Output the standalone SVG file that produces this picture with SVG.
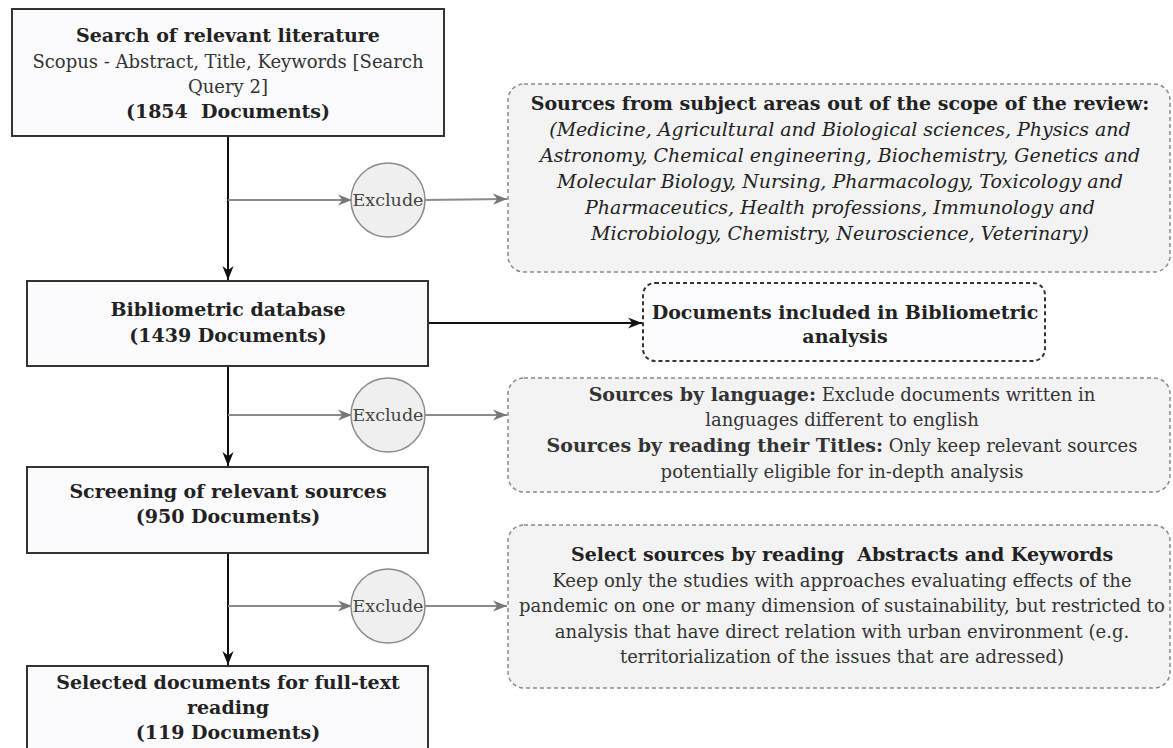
<svg xmlns="http://www.w3.org/2000/svg" width="1173" height="748" viewBox="0 0 1173 748">
<style>
text{font-family:"DejaVu Serif","Liberation Serif",serif;font-size:18px;fill:#222;text-anchor:middle}
.b{font-weight:bold;font-size:19px}
.g{fill:#333}
.i{font-style:italic;font-size:19px}
.ex{font-size:17.5px;fill:#444}
.box{fill:#fbfbfe;stroke:#333;stroke-width:2}
.dg{fill:#f3f3f3;stroke:#8a8a8a;stroke-width:1.5;stroke-dasharray:4 3}
.dk{fill:#fcfcfe;stroke:#333;stroke-width:2;stroke-dasharray:4 3}
.circ{fill:#efefef;stroke:#8a8a8a;stroke-width:1.5}
.ln{stroke:#111;stroke-width:2;fill:none}
.gl{stroke:#8a8a8a;stroke-width:2;fill:none}
</style>
<defs>
<marker id="ag" viewBox="0 0 10 10" refX="10" refY="5" markerWidth="14" markerHeight="14" markerUnits="userSpaceOnUse" orient="auto"><path d="M0,1 L10,5 L0,9 L3,5 z" fill="#777"/></marker>
<marker id="ab2" viewBox="0 0 10 10" refX="10" refY="5" markerWidth="14" markerHeight="14" markerUnits="userSpaceOnUse" orient="auto"><path d="M0,1 L10,5 L0,9 L3,5 z" fill="#111"/></marker>
</defs>
<g id="connectors">
<line class="ln" x1="228" y1="136" x2="228" y2="280" marker-end="url(#ab2)"/>
<line class="ln" x1="228" y1="366" x2="228" y2="466" marker-end="url(#ab2)"/>
<line class="ln" x1="228" y1="553" x2="228" y2="665" marker-end="url(#ab2)"/>
<line class="gl" x1="228" y1="200" x2="352" y2="200" marker-end="url(#ag)"/>
<line class="gl" x1="424" y1="200" x2="507" y2="199" marker-end="url(#ag)"/>
<line class="gl" x1="228" y1="415" x2="352" y2="415" marker-end="url(#ag)"/>
<line class="gl" x1="424" y1="415" x2="507" y2="415" marker-end="url(#ag)"/>
<line class="gl" x1="228" y1="606" x2="352" y2="606" marker-end="url(#ag)"/>
<line class="gl" x1="424" y1="606" x2="507" y2="606" marker-end="url(#ag)"/>
<line class="ln" x1="428" y1="323" x2="642" y2="323" marker-end="url(#ab2)"/>
</g>
<g id="n1">
<rect class="box" x="12" y="9" width="432" height="127"/>
<text x="228" y="42" class="b">Search of relevant literature</text>
<text x="228" y="68" class="g">Scopus - Abstract, Title, Keywords [Search</text>
<text x="228" y="93" class="g">Query 2]</text>
<text x="228" y="118" class="b" xml:space="preserve">(1854  Documents)</text>
</g>
<g id="x1">
<circle class="circ" cx="388" cy="200" r="37"/>
<text x="388" y="206" class="ex">Exclude</text>
</g>
<g id="e1">
<rect class="dg" x="508" y="84" width="662" height="188" rx="16"/>
<text x="840" y="110" class="b">Sources from subject areas out of the scope of the review:</text>
<text x="840" y="136" class="i">(Medicine, Agricultural and Biological sciences, Physics and</text>
<text x="840" y="162" class="i">Astronomy, Chemical engineering, Biochemistry, Genetics and</text>
<text x="840" y="188" class="i">Molecular Biology, Nursing, Pharmacology, Toxicology and</text>
<text x="840" y="214" class="i">Pharmaceutics, Health professions, Immunology and</text>
<text x="840" y="240" class="i">Microbiology, Chemistry, Neuroscience, Veterinary)</text>
</g>
<g id="n2">
<rect class="box" x="27" y="281" width="401" height="85"/>
<text x="228" y="316" class="b">Bibliometric database</text>
<text x="228" y="342" class="b">(1439 Documents)</text>
</g>
<g id="d1">
<rect class="dk" x="643" y="283" width="402" height="78" rx="12"/>
<text x="845" y="319" class="b">Documents included in Bibliometric</text>
<text x="845" y="343" class="b">analysis</text>
</g>
<g id="x2">
<circle class="circ" cx="388" cy="415" r="37"/>
<text x="388" y="421" class="ex">Exclude</text>
</g>
<g id="e2">
<rect class="dg" x="508" y="378" width="662" height="114" rx="16"/>
<text x="842" y="401" class="g"><tspan class="b">Sources by language:</tspan> Exclude documents written in</text>
<text x="842" y="426" class="g">languages different to english</text>
<text x="842" y="452" class="g"><tspan class="b">Sources by reading their Titles:</tspan> Only keep relevant sources</text>
<text x="842" y="478" class="g">potentially eligible for in-depth analysis</text>
</g>
<g id="n3">
<rect class="box" x="27" y="467" width="401" height="86"/>
<text x="228" y="498" class="b">Screening of relevant sources</text>
<text x="228" y="523" class="b">(950 Documents)</text>
</g>
<g id="x3">
<circle class="circ" cx="388" cy="606" r="37"/>
<text x="388" y="612" class="ex">Exclude</text>
</g>
<g id="e3">
<rect class="dg" x="508" y="525" width="662" height="163" rx="16"/>
<text x="842" y="561" class="b" xml:space="preserve">Select sources by reading  Abstracts and Keywords</text>
<text x="842" y="587" class="g">Keep only the studies with approaches evaluating effects of the</text>
<text x="842" y="612" class="g">pandemic on one or many dimension of sustainability, but restricted to</text>
<text x="842" y="638" class="g">analysis that have direct relation with urban environment (e.g.</text>
<text x="842" y="663" class="g">territorialization of the issues that are adressed)</text>
</g>
<g id="n4">
<rect class="box" x="27" y="666" width="401" height="90"/>
<text x="228" y="689" class="b">Selected documents for full-text</text>
<text x="228" y="714" class="b">reading</text>
<text x="228" y="739" class="b">(119 Documents)</text>
</g>
</svg>
